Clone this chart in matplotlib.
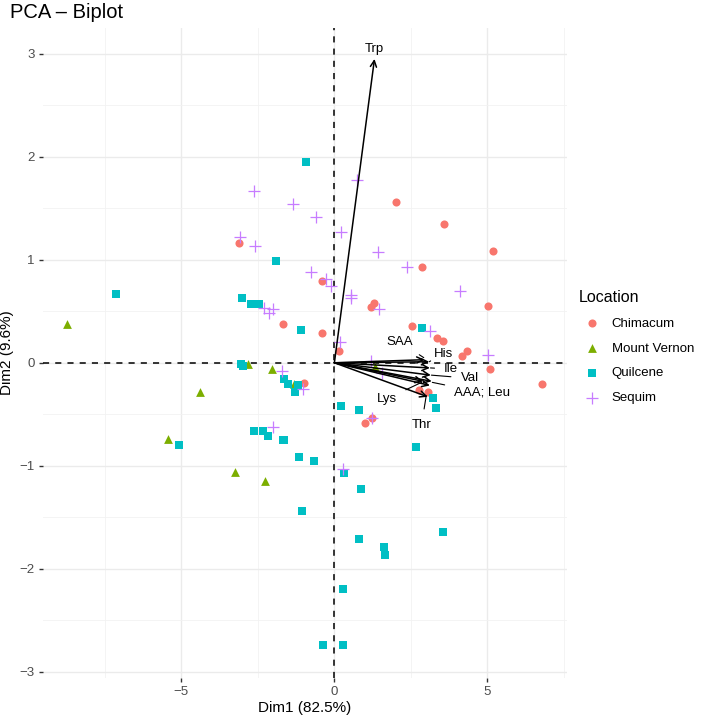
import matplotlib
matplotlib.use("Agg")
import matplotlib.pyplot as plt
from matplotlib.ticker import MultipleLocator

plt.rcParams['font.family'] = ['Liberation Sans', 'DejaVu Sans']

# ---- data ----
chim_x = [-3.11, -0.42, -1.67, -0.41, 2.02, 3.57, 5.18, 2.87, 1.31, 1.20, 5.02, 2.55, 0.16, 3.36,
          3.54, 4.18, 4.32, 5.08, 6.79, 2.78, 3.07, 1.22, 1.01, -1.00]
chim_y = [1.16, 0.79, 0.38, 0.29, 1.56, 1.35, 1.09, 0.93, 0.58, 0.54, 0.55, 0.36, 0.11, 0.24,
          0.21, 0.07, 0.11, -0.06, -0.21, -0.26, -0.28, -0.54, -0.58, -0.20]

mv_x = [-8.73, -2.81, -2.05, -1.32, -4.38, -5.45, -3.24, -2.26, 1.33]
mv_y = [0.38, -0.01, -0.06, -0.21, -0.28, -0.74, -1.06, -1.15, -0.04]

quil_x = [-0.94, -1.90, -7.15, -3.01, -2.71, -2.46, -1.09, 2.85, 3.22, 3.31, 0.20, 0.82, 2.67,
          0.33, 0.88, 3.56, 0.80, 1.61, 1.66, 0.27, -0.38, 0.27, -3.06, -2.98, -1.63, -1.51,
          -1.18, -1.30, -2.63, -2.32, -2.18, -1.67, -1.63, -5.08, -1.17, -0.65, -1.05]
quil_y = [1.95, 0.99, 0.67, 0.63, 0.57, 0.57, 0.32, 0.34, -0.34, -0.44, -0.42, -0.46, -0.82,
          -1.07, -1.23, -1.64, -1.71, -1.79, -1.87, -2.20, -2.74, -2.74, -0.01, -0.03, -0.16, -0.21,
          -0.22, -0.28, -0.66, -0.66, -0.71, -0.75, -0.75, -0.80, -0.91, -0.95, -1.44]

seq_x = [-2.63, -1.35, -0.59, -3.08, -2.59, -0.77, -0.27, -0.11, -2.29, -2.00, -2.14, 0.75, 0.23,
         1.43, 2.36, 4.09, 0.54, 0.54, 1.46, 3.11, 0.18, 5.02, 1.19, 1.54, 1.24, 0.29, -1.72,
         -1.03, -1.99]
seq_y = [1.67, 1.54, 1.42, 1.22, 1.13, 0.88, 0.81, 0.75, 0.53, 0.52, 0.48, 1.77, 1.27,
         1.08, 0.93, 0.70, 0.66, 0.63, 0.52, 0.31, 0.20, 0.08, 0.02, -0.10, -0.54, -1.03, -0.08,
         -0.25, -0.62]

var_names = ["Trp", "SAA", "His", "Ile", "Val", "AAA", "Leu", "Lys", "Thr"]
var_x = [1.31, 2.95, 3.10, 3.12, 3.15, 3.18, 3.12, 2.90, 3.05]
var_y = [2.95, 0.03, 0.01, -0.05, -0.12, -0.18, -0.22, -0.18, -0.33]

# variable labels (text, label position, leader target)
lab_text = ["Trp", "SAA", "His", "Ile", "Val", "AAA; Leu", "Lys", "Thr"]
lab_x = [1.31, 2.14, 3.55, 3.82, 4.42, 4.83, 1.71, 2.85]
lab_y = [3.05, 0.20, 0.09, -0.06, -0.15, -0.29, -0.35, -0.60]
lead_x = [None, 2.92, 3.10, 3.14, 3.17, 3.20, 2.85, 3.00]
lead_y = [None, 0.05, 0.01, -0.05, -0.12, -0.19, -0.19, -0.32]

groups = ["Chimacum", "Mount Vernon", "Quilcene", "Sequim"]
colors = ["#F8766D", "#7CAE00", "#00BFC4", "#C77CFF"]

fig = plt.figure(figsize=(7.08, 7.16), dpi=100)
ax = fig.add_axes([43/708, 38/716, 524/708, 650/716])

ax.set_xlim(-9.52, 7.6)
ax.set_ylim(-3.06, 3.25)

ax.xaxis.set_major_locator(MultipleLocator(5))
ax.xaxis.set_minor_locator(MultipleLocator(2.5))
ax.yaxis.set_major_locator(MultipleLocator(1))
ax.yaxis.set_minor_locator(MultipleLocator(0.5))
ax.grid(which='major', color='#EBEBEB', linewidth=1.0, zorder=0)
ax.grid(which='minor', color='#F2F2F2', linewidth=0.6, zorder=0)
ax.set_axisbelow(True)
for s in ax.spines.values():
    s.set_visible(False)
ax.tick_params(which='major', length=3, width=1.0, color='#333333', labelsize=9.5,
               labelcolor='#4D4D4D', pad=3)
ax.tick_params(which='minor', length=0)

ax.axhline(0, color='black', linestyle=(0, (4, 4)), linewidth=1.1, zorder=1)
ax.axvline(0, color='black', linestyle=(0, (4, 4)), linewidth=1.1, zorder=1)

ms = 34
ax.scatter(chim_x, chim_y, marker='o', s=ms, color=colors[0], linewidths=0, zorder=2, label=groups[0])
ax.scatter(mv_x, mv_y, marker='^', s=ms + 6, color=colors[1], linewidths=0, zorder=2, label=groups[1])
ax.scatter(quil_x, quil_y, marker='s', s=ms - 4, color=colors[2], linewidths=0, zorder=2, label=groups[2])
ax.scatter(seq_x, seq_y, marker='+', s=ms * 2.2, color=colors[3], linewidths=0.9, zorder=2, label=groups[3])

for vx, vy in zip(var_x, var_y):
    ax.annotate("", xy=(vx, vy), xytext=(0, 0),
                arrowprops=dict(arrowstyle='->,head_length=0.45,head_width=0.22',
                                color='black', lw=1.1, shrinkA=0, shrinkB=0), zorder=3)

for t, lx, ly, tx, ty in zip(lab_text, lab_x, lab_y, lead_x, lead_y):
    if tx is None:
        ax.text(lx, ly, t, ha='center', va='center', fontsize=9.5, zorder=4)
    else:
        ax.annotate(t, xy=(tx, ty), xytext=(lx, ly), ha='center', va='center', fontsize=9.5,
                    arrowprops=dict(arrowstyle='-', color='black', lw=0.8, shrinkA=5, shrinkB=0),
                    zorder=4)

ax.set_xlabel("Dim1 (82.5%)", fontsize=11, labelpad=2)
ax.set_ylabel("Dim2 (9.6%)", fontsize=11, labelpad=4)
fig.text(10/708, 1 - 12/716, "PCA – Biplot", fontsize=14.5, ha='left', va='center')

leg = ax.legend(loc='upper left', bbox_to_anchor=(1.012, 0.605), frameon=False,
                title="Location", fontsize=9.5, title_fontsize=11.5, handletextpad=0.5,
                labelspacing=0.95, alignment='left', borderaxespad=0)

fig.savefig("out.png", dpi=100)
